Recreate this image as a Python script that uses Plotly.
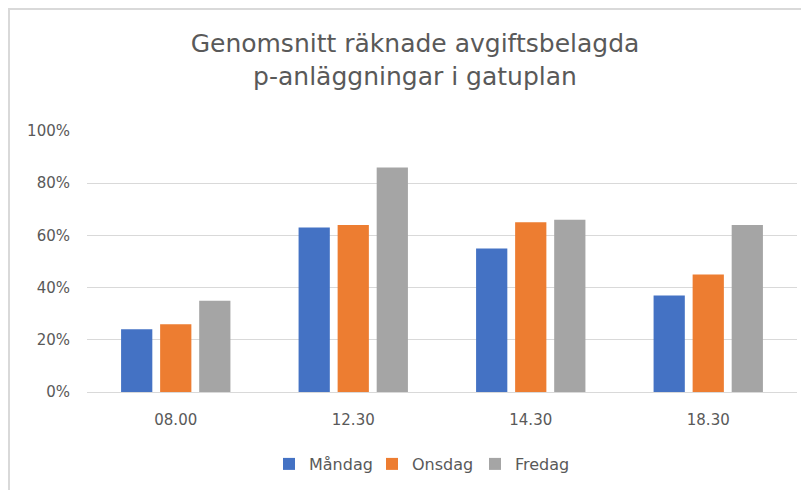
import plotly.graph_objects as go

categories = ["08.00", "12.30", "14.30", "18.30"]
mandag = [0.24, 0.63, 0.55, 0.37]
onsdag = [0.26, 0.64, 0.65, 0.45]
fredag = [0.35, 0.86, 0.66, 0.64]
series_names = ["Måndag", "Onsdag", "Fredag"]
colors = ["#4472C4", "#ED7D31", "#A5A5A5"]
title_text = "Genomsnitt räknade avgiftsbelagda<br>p-anläggningar i gatuplan"

W, H = 809, 490
OFF = 8  # default page body margin
# target plot-area edges in the viewport
vx0, vx1, vy0, vy1 = 87, 797, 131, 392
L, R, T, B = vx0 - OFF, W - (vx1 - OFF), vy0 - OFF, H - (vy1 - OFF)

fig = go.Figure()
for name, vals, col in zip(series_names, [mandag, onsdag, fredag], colors):
    fig.add_trace(go.Bar(x=categories, y=vals, name=name, marker_color=col,
                         marker_line_width=0))

font_family = "'DejaVu Sans', sans-serif"
txt = "#595959"

pw, ph = W - L - R, H - T - B
def px2x(px):
    return (px - OFF - L) / pw
def py2y(py):
    return (H - B - (py - OFF)) / ph
def cy(py):
    return 1 - (py - OFF) / H
def cx(px):
    return (px - OFF) / W

fig.add_shape(type="rect", xref="paper", yref="paper",
              x0=px2x(9), x1=px2x(W + 20), y0=py2y(H + 20), y1=py2y(9),
              line=dict(color="#D9D9D9", width=2), fillcolor="rgba(0,0,0,0)",
              layer="below")

fig.update_layout(
    width=W, height=H,
    margin=dict(l=L, r=R, t=T, b=B, pad=0, autoexpand=False),
    paper_bgcolor="white", plot_bgcolor="white",
    font=dict(family=font_family, color=txt, size=15),
    title=dict(text=title_text, x=cx(415), xanchor="center", xref="container",
               y=cy(52), yanchor="top", yref="container",
               font=dict(size=25, color=txt, family=font_family)),
    barmode="group", bargap=0.34, bargroupgap=0.2,
    showlegend=True,
    legend=dict(orientation="h", x=cx(269), xanchor="left", xref="container",
                y=cy(464), yanchor="middle", yref="container",
                font=dict(size=16, color=txt), itemsizing="constant",
                traceorder="normal", entrywidth=58, entrywidthmode="pixels"),
    xaxis=dict(showgrid=False, showline=True, linecolor="#D9D9D9", linewidth=1,
               ticks="", tickfont=dict(size=15, color=txt), ticklabelstandoff=14),
    yaxis=dict(range=[0, 1], dtick=0.2, tickformat=".0%", showgrid=True,
               gridcolor="#D9D9D9", gridwidth=1, zeroline=False, showline=False,
               ticks="", tickfont=dict(size=15, color=txt), ticklabelstandoff=16),
)

fig.write_html("out.html")
